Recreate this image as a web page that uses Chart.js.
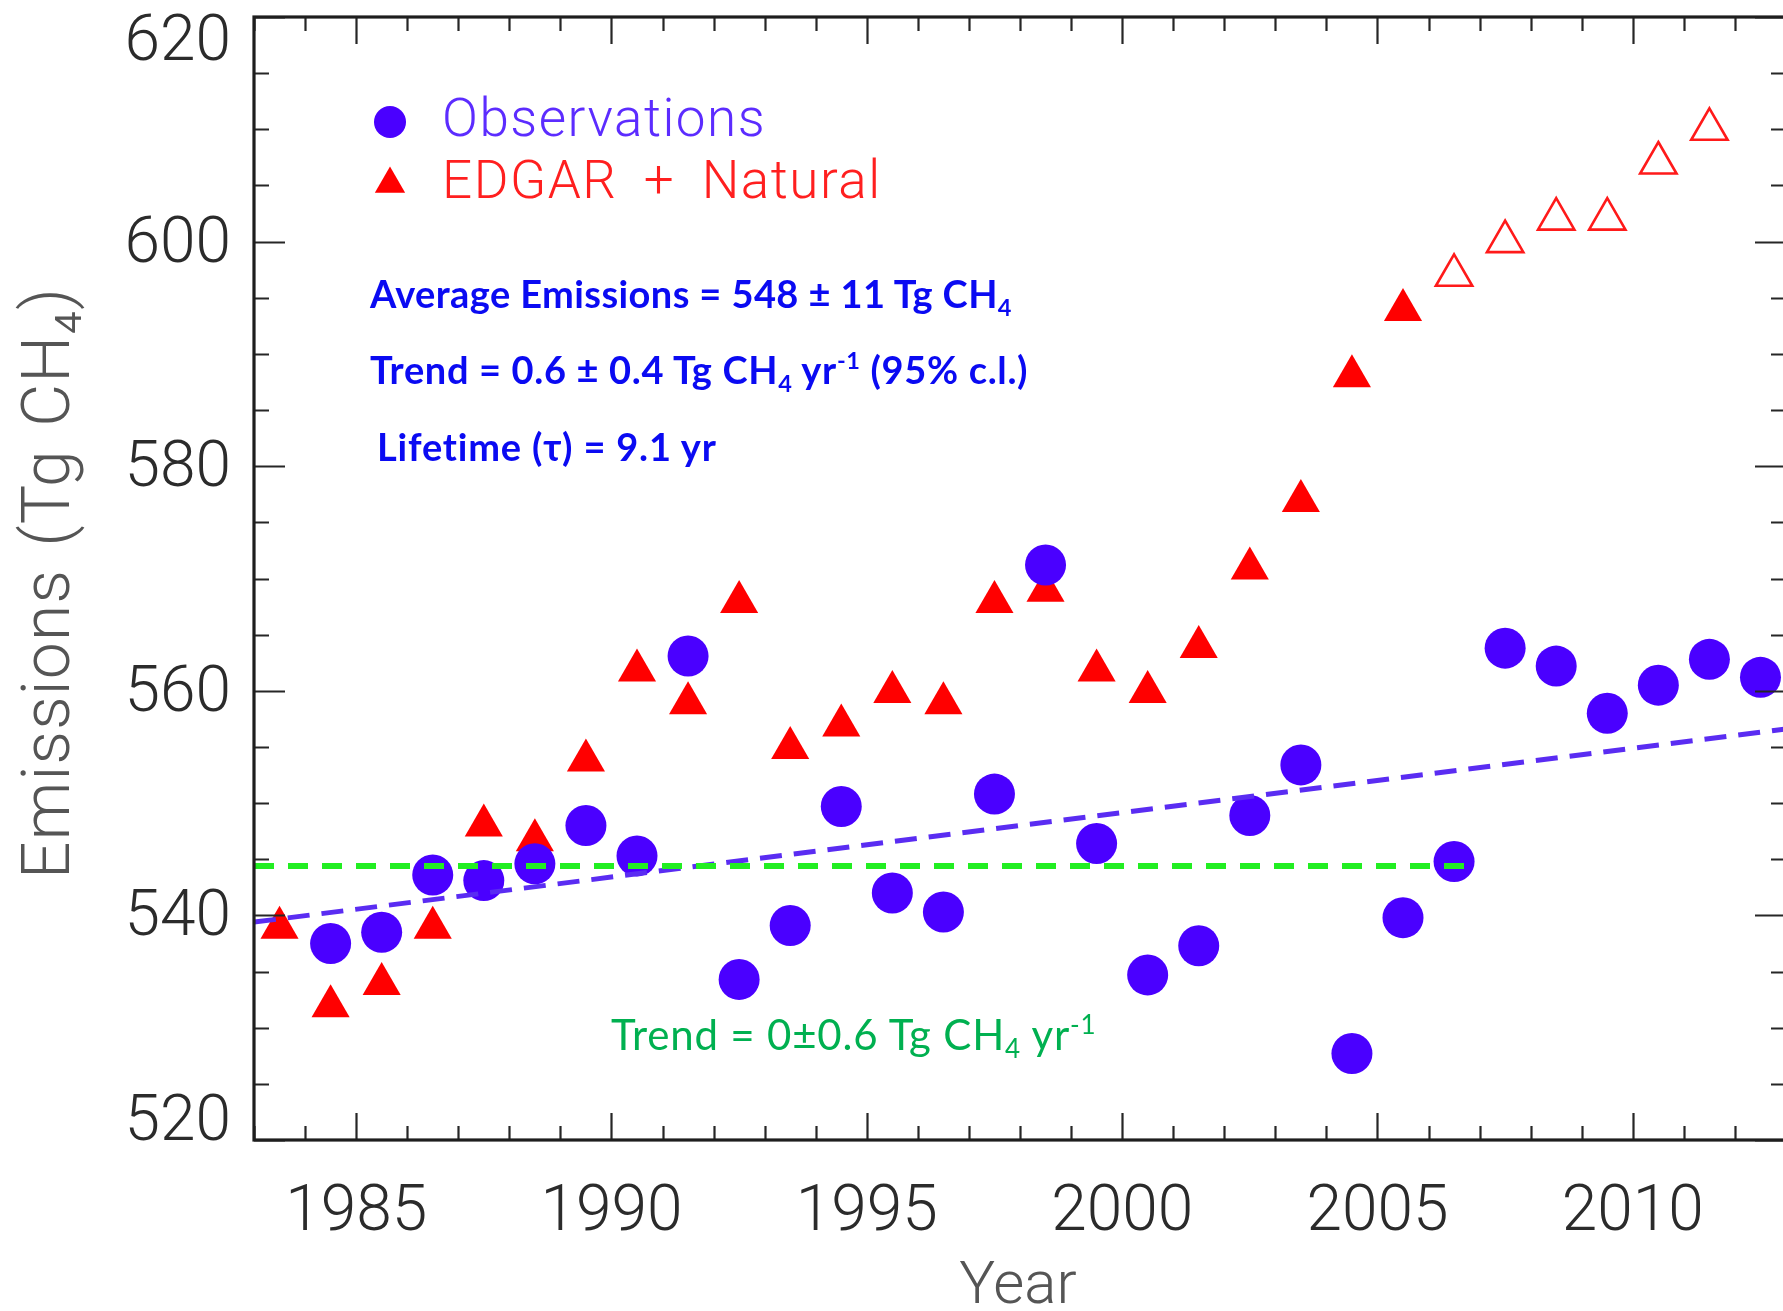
<!DOCTYPE html>
<html>
<head>
<meta charset="utf-8">
<script src="https://cdn.jsdelivr.net/npm/chart.js@4.4.1/dist/chart.umd.min.js"></script>
<style>
html,body{margin:0;padding:0;background:#fff;overflow:hidden;}
#wrap{position:relative;width:1783px;height:1311px;overflow:hidden;background:#fff;}
#c{position:absolute;left:0;top:0;}
.ann{position:absolute;white-space:nowrap;font-family:Lato,"Open Sans",sans-serif;line-height:1;}
.blue{color:#0a0af2;font-weight:700;font-size:38px;letter-spacing:0.5px;}
.green{color:#00b050;font-weight:400;font-size:42px;letter-spacing:0.8px;}
.ann sub{font-size:0.62em;vertical-align:-0.32em;line-height:0;}
.ann sup{font-size:0.62em;vertical-align:0.62em;line-height:0;}
</style>
</head>
<body>
<div id="wrap">
<canvas id="c" width="1790" height="1311"></canvas>
<div class="ann blue" style="left:370px;top:274px;letter-spacing:0.4px;">Average Emissions = 548 ± 11 Tg CH<sub>4</sub></div>
<div class="ann blue" style="left:370px;top:350px;letter-spacing:0.65px;">Trend = 0.6 ± 0.4 Tg CH<sub>4</sub> yr<sup>-1</sup> (95% c.l.)</div>
<div class="ann blue" style="left:377px;top:427px;letter-spacing:0.8px;">Lifetime (τ) = 9.1 yr</div>
<div class="ann green" style="left:611px;top:1013px;">Trend = 0±0.6 Tg CH<sub>4</sub> yr<sup>-1</sup></div>
</div>
<script>
// ---------------- DATA ----------------
const obsYears = [1984.5,1985.5,1986.5,1987.5,1988.5,1989.5,1990.5,1991.5,1992.5,1993.5,
  1994.5,1995.5,1996.5,1997.5,1998.5,1999.5,2000.5,2001.5,2002.5,2003.5,
  2004.5,2005.5,2006.5,2007.5,2008.5,2009.5,2010.5,2011.5,2012.5];
const obsValues = [537.5,538.5,543.6,543.1,544.6,548.0,545.3,563.1,534.3,539.1,
  549.7,542.0,540.3,550.8,571.2,546.4,534.7,537.3,548.9,553.4,
  527.7,539.8,544.8,563.8,562.2,558.0,560.5,562.8,561.2];

const edgarYears = [1983.5,1984.5,1985.5,1986.5,1987.5,1988.5,1989.5,1990.5,1991.5,1992.5,
  1993.5,1994.5,1995.5,1996.5,1997.5,1998.5,1999.5,2000.5,2001.5,2002.5,
  2003.5,2004.5,2005.5];
const edgarValues = [538.9,531.9,533.9,538.9,548.0,546.7,553.8,561.8,558.9,567.9,
  554.9,556.9,559.9,558.9,567.9,568.9,561.8,559.9,563.9,570.9,
  576.9,588.0,593.9];

const edgarProjYears = [2006.5,2007.5,2008.5,2009.5,2010.5,2011.5];
const edgarProjValues = [597.0,600.0,602.0,602.0,607.0,610.0];

const trendYears = [1983, 2013];
const trendValues = [539.4, 556.6];

const flatYears = [1983, 2006.8];
const flatValues = [544.4, 544.4];

const xTickLabels = ['1985','1990','1995','2000','2005','2010'];
const yTickLabels = ['520','540','560','580','600','620'];

const legendLabels = ['Observations', 'EDGAR + Natural'];
const xTitle = 'Year';
const yTitle = 'Emissions (Tg CH\u2084)';

// ---------------- HELPERS ----------------
const pts = (xs, ys) => xs.map((x, i) => ({x: x, y: ys[i]}));

const X_MIN = 1983, X_MAX = 2013, Y_MIN = 520, Y_MAX = 620;
const AXIS_FONT = '300 64px Roboto, "Liberation Sans", sans-serif';

const framePlugin = {
  id: 'frame',
  afterDraw(chart) {
    const ctx = chart.ctx;
    const a = chart.chartArea;
    const xs = chart.scales.x, ys = chart.scales.y;
    ctx.save();
    // ticks (inward, all four sides)
    ctx.strokeStyle = '#262626';
    ctx.lineWidth = 2.2;
    for (let yr = X_MIN; yr <= X_MAX; yr++) {
      const px = Math.round(xs.getPixelForValue(yr)) + 0.5;
      const len = (yr % 5 === 0) ? 27 : 14;
      ctx.beginPath();
      ctx.moveTo(px, a.bottom); ctx.lineTo(px, a.bottom - len);
      ctx.moveTo(px, a.top); ctx.lineTo(px, a.top + len);
      ctx.stroke();
    }
    for (let v = Y_MIN; v <= Y_MAX; v += 5) {
      const py = Math.round(ys.getPixelForValue(v)) + 0.5;
      const len = (v % 20 === 0) ? 31 : 15;
      ctx.beginPath();
      ctx.moveTo(a.left, py); ctx.lineTo(a.left + len, py);
      ctx.moveTo(a.right, py); ctx.lineTo(a.right - len, py);
      ctx.stroke();
    }
    // box
    ctx.lineWidth = 3.2;
    ctx.strokeStyle = '#1e1e1e';
    ctx.strokeRect(a.left, a.top, a.right - a.left, a.bottom - a.top);

    // tick labels
    ctx.fillStyle = '#2b2b2b';
    ctx.font = AXIS_FONT;
    ctx.textAlign = 'center';
    ctx.textBaseline = 'middle';
    xTickLabels.forEach(l => {
      ctx.fillText(l, xs.getPixelForValue(parseFloat(l)), 1214);
    });
    ctx.textAlign = 'right';
    yTickLabels.forEach(l => {
      const v = parseFloat(l);
      let py = ys.getPixelForValue(v);
      if (v === Y_MAX) py += 23;
      if (v === Y_MIN) py -= 20;
      ctx.fillText(l, 231, py + 4);
    });
    // axis titles
    ctx.fillStyle = '#555555';
    ctx.font = '300 60px Roboto, "Liberation Sans", sans-serif';
    ctx.textAlign = 'center';
    ctx.fillText(xTitle, 1018, 1288);
    ctx.save();
    ctx.translate(52, 583);
    ctx.rotate(-Math.PI / 2);
    ctx.font = '300 66px Roboto, "Liberation Sans", sans-serif';
    ctx.letterSpacing = '1.2px';
    ctx.wordSpacing = '5px';
    ctx.fillText(yTitle, 0, 0);
    ctx.restore();

    // legend
    ctx.fillStyle = '#4a00ff';
    ctx.beginPath();
    ctx.arc(390, 122, 16, 0, Math.PI * 2);
    ctx.fill();
    ctx.fillStyle = '#ff0000';
    const r = 17.5, cx = 390, cy = 184;
    ctx.beginPath();
    ctx.moveTo(cx, cy - r);
    ctx.lineTo(cx + r * Math.sin(2 * Math.PI / 3), cy - r * Math.cos(2 * Math.PI / 3));
    ctx.lineTo(cx + r * Math.sin(4 * Math.PI / 3), cy - r * Math.cos(4 * Math.PI / 3));
    ctx.closePath();
    ctx.fill();
    ctx.font = '300 53px Roboto, "Liberation Sans", sans-serif';
    ctx.textAlign = 'left';
    ctx.letterSpacing = '1.5px';
    ctx.wordSpacing = '12px';
    ctx.fillStyle = '#5c2cff';
    ctx.fillText(legendLabels[0], 442, 123);
    ctx.fillStyle = '#ff1f1f';
    ctx.fillText(legendLabels[1], 442, 185);
    ctx.restore();
  }
};

new Chart(document.getElementById('c'), {
  type: 'scatter',
  data: {
    datasets: [
      {
        type: 'line', label: 'flat', data: pts(flatYears, flatValues),
        borderColor: '#22ee22', borderWidth: 6, borderDash: [20, 14],
        pointRadius: 0, fill: false, order: 0
      },
      {
        type: 'line', label: 'trend', data: pts(trendYears, trendValues),
        borderColor: '#5a2cf2', borderWidth: 5, borderDash: [22, 12],
        pointRadius: 0, fill: false, order: 1
      },
      {
        label: 'Observations', data: pts(obsYears, obsValues),
        pointStyle: 'circle', pointRadius: 20.5, backgroundColor: '#4a00ff',
        borderWidth: 0, order: 2
      },
      {
        label: 'EDGAR + Natural', data: pts(edgarYears, edgarValues),
        pointStyle: 'triangle', pointRadius: 22, backgroundColor: '#ff0000',
        borderWidth: 0, order: 3
      },
      {
        label: 'EDGAR + Natural (projected)', data: pts(edgarProjYears, edgarProjValues),
        pointStyle: 'triangle', pointRadius: 21, backgroundColor: '#ffffff',
        borderColor: '#ff1a1a', borderWidth: 2.6, order: 4
      }
    ]
  },
  options: {
    responsive: false,
    animation: false,
    devicePixelRatio: 1,
    layout: { autoPadding: false, padding: { left: 254, top: 17, right: 4, bottom: 171 } },
    plugins: { legend: { display: false }, tooltip: { enabled: false } },
    scales: {
      x: { type: 'linear', min: X_MIN, max: X_MAX, display: false },
      y: { type: 'linear', min: Y_MIN, max: Y_MAX, display: false }
    }
  },
  plugins: [framePlugin]
});
</script>
</body>
</html>
